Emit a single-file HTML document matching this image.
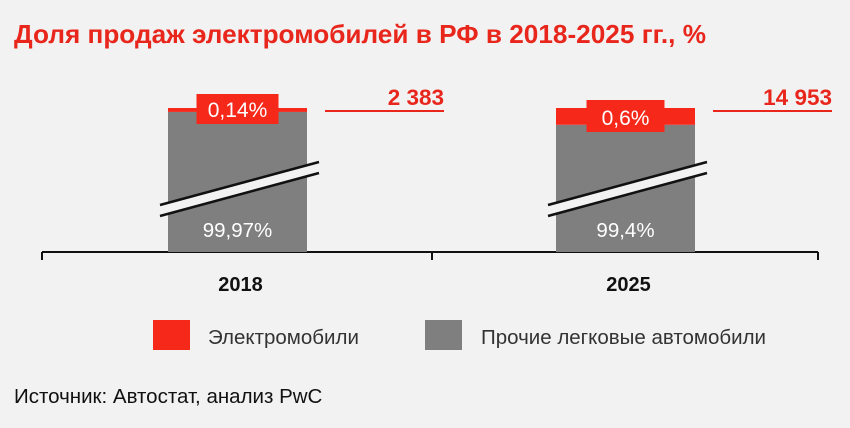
<!DOCTYPE html>
<html><head><meta charset="utf-8"><style>
body{margin:0;background:#f2f2f2;}
svg{display:block;font-family:"Liberation Sans",Arial,sans-serif;}
</style></head><body>
<svg width="850" height="428" viewBox="0 0 850 428">
<rect width="850" height="428" fill="#f2f2f2"/>
<text x="14" y="43" font-size="26" font-weight="bold" fill="#e8261c" textLength="692" lengthAdjust="spacingAndGlyphs">Доля продаж электромобилей в РФ в 2018-2025 гг., %</text>
<g id="plot"></g>
<g>
<rect x="153" y="320" width="37" height="30" fill="#f5281a"/>
<text x="208" y="344" font-size="20.5" fill="#333">Электромобили</text>
<rect x="425" y="320" width="37" height="30" fill="#7f7f7f"/>
<text x="481" y="344" font-size="20.5" fill="#333">Прочие легковые автомобили</text>
</g>
<text x="14" y="403" font-size="20.5" fill="#111">Источник: Автостат, анализ PwC</text>
</svg>
<script>
const years = ["2018","2025"];
const evShare = [0.14, 0.6];
const otherShare = [99.97, 99.4];
const evCount = [2383, 14953];
const evLabels = ["0,14%","0,6%"];
const otherLabels = ["99,97%","99,4%"];
const countLabels = ["2 383","14 953"];

const NS="http://www.w3.org/2000/svg";
const g=document.getElementById('plot');
function mk(t,a,txt){const e=document.createElementNS(NS,t);for(const k in a)e.setAttribute(k,a[k]);if(txt!==undefined)e.textContent=txt;g.appendChild(e);return e;}
const baseY=252, topY=108, barW=139;
const xCenter=i=>237.5+i*388;
const redH=s=>s*28;

const axis=mk('line',{x1:42,y1:baseY,x2:818,y2:baseY,stroke:'#111','stroke-width':2});


[42,432,818].forEach(x=>{const t=mk('line',{x1:x,y1:baseY,x2:x,y2:baseY+8,stroke:'#111','stroke-width':2});

});

years.forEach((y,i)=>{
  const cx=xCenter(i), x0=cx-barW/2, rh=redH(evShare[i]);
  const gray=mk('rect',{x:x0,y:topY+rh,width:barW,height:baseY-topY-rh,fill:'#7f7f7f'});
  
  
  const red=mk('rect',{x:x0,y:topY,width:barW,height:rh,fill:'#f5281a'});
  
  
  const bw=i===0?82:78;
  const lb=mk('rect',{x:cx-bw/2,y:topY-14+i*6,width:bw,height:30+i*2,fill:'#f5281a'});
  
  
  const lt=mk('text',{x:cx,y:topY+9+i*8,'font-size':21,fill:'#fff','text-anchor':'middle'},evLabels[i]);
  
  
  const bx1=x0-8, bx2=x0+151;
  const band=mk('polygon',{points:`${bx1},${205} ${bx2},${162} ${bx2},${174} ${bx1},${217}`,fill:'#f2f2f2'});
  
  
  [0,11].forEach(o=>{const l=mk('line',{x1:bx1,y1:205+o,x2:bx2,y2:162+o,stroke:'#111','stroke-width':2.5});
  
  });
  const ot=mk('text',{x:cx,y:237,'font-size':20.5,fill:'#fff','text-anchor':'middle'},otherLabels[i]);
  
  
  const cl=mk('line',{x1:x0+157,y1:111,x2:x0+276,y2:111,stroke:'#e8261c','stroke-width':2});
  
  
  const ct=mk('text',{x:x0+276,y:105,'font-size':22.5,'font-weight':'bold',fill:'#e8261c','text-anchor':'end'},countLabels[i]);
  
  
  const yl=mk('text',{x:cx+3,y:291,'font-size':20,'font-weight':'bold',fill:'#111','text-anchor':'middle'},y);
  
  
});
</script>
</body></html>
